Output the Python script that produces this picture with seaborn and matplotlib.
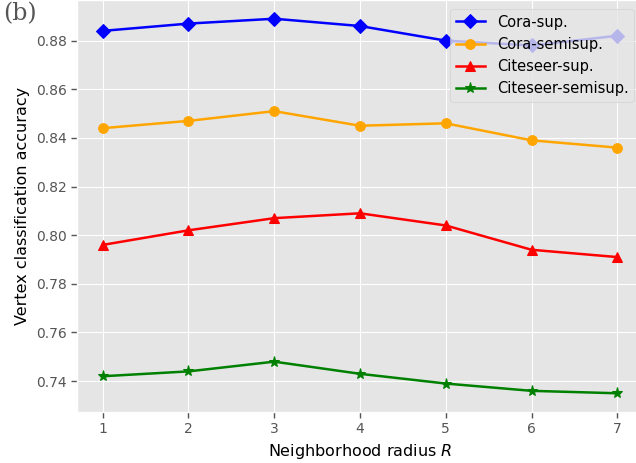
import matplotlib
matplotlib.use("Agg")
import matplotlib.pyplot as plt
import seaborn as sns
import pandas as pd

radius = [1, 2, 3, 4, 5, 6, 7]
cora_sup = [0.884, 0.887, 0.889, 0.886, 0.880, 0.878, 0.882]
cora_semisup = [0.844, 0.847, 0.851, 0.845, 0.846, 0.839, 0.836]
citeseer_sup = [0.796, 0.802, 0.807, 0.809, 0.804, 0.794, 0.791]
citeseer_semisup = [0.742, 0.744, 0.748, 0.743, 0.739, 0.736, 0.735]

series = [
    ("Cora-sup.", cora_sup, "blue", "D"),
    ("Cora-semisup.", cora_semisup, "orange", "o"),
    ("Citeseer-sup.", citeseer_sup, "red", "^"),
    ("Citeseer-semisup.", citeseer_semisup, "green", "*"),
]

plt.style.use("ggplot")
fig = plt.figure(figsize=(6.36, 4.63), dpi=100)
ax = fig.add_axes([77 / 636, 51 / 463, 566 / 636, 412 / 463])

for name, vals, col, mk in series:
    df = pd.DataFrame({"R": radius, "acc": vals})
    sns.lineplot(data=df, x="R", y="acc", ax=ax, color=col, marker=mk,
                 markersize=7 if mk != "*" else 8, markeredgecolor=col,
                 linewidth=1.8, label=name)

ax.set_xlabel("Neighborhood radius $R$", color="black", fontsize=11.5)
ax.set_ylabel("Vertex classification accuracy", color="black", fontsize=11.5)
ax.set_yticks([0.74, 0.76, 0.78, 0.80, 0.82, 0.84, 0.86, 0.88])
ax.set_xticks(radius)
ax.tick_params(labelsize=10, length=4, width=1, color="#555555",
               labelcolor="#555555", direction="out")
ax.legend(loc="upper right", fontsize=10.5, facecolor="#E5E5E5", framealpha=0.8,
          edgecolor="#cccccc", handlelength=2, borderaxespad=0.6)

fig.text(0.005, 0.995, "(b)", family="DejaVu Serif", fontsize=17, color="#555555",
         ha="left", va="top")

fig.savefig("out.png", dpi=100)
